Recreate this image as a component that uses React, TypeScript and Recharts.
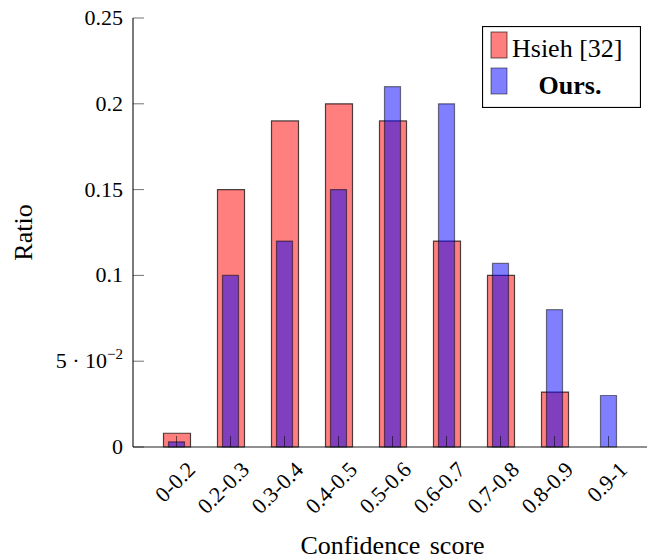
import { BarChart, Bar, XAxis, YAxis, Legend, Label } from 'recharts';

const ranges = ['0-0.2', '0.2-0.3', '0.3-0.4', '0.4-0.5', '0.5-0.6', '0.6-0.7', '0.7-0.8', '0.8-0.9', '0.9-1'];
const hsieh = [0.008, 0.15, 0.19, 0.2, 0.19, 0.12, 0.1, 0.032, 0];
const ours = [0.003, 0.1, 0.12, 0.15, 0.21, 0.2, 0.107, 0.08, 0.03];
const yTicks = [0, 0.05, 0.1, 0.15, 0.2, 0.25];

const data = ranges.map((range, i) => ({ range, hsieh: hsieh[i], ours: ours[i] }));

const FONT = 'Liberation Serif, DejaVu Serif, serif';
const TICK_LEN = 11;
const tickStroke = { stroke: '#000', strokeOpacity: 0.55, strokeWidth: 1 };
const axisLine = { stroke: '#222', strokeWidth: 1.2 };
const txt = (size: number, extra: any = {}) => ({ fontFamily: FONT, fontSize: size, fill: '#000', style: { fontFamily: FONT }, ...extra });

const BottomTick = (props: any) => {
  const { x, y, payload } = props;
  return (
    <g>
      <line x1={x} y1={y} x2={x} y2={y - TICK_LEN} {...tickStroke} />
      <text transform={`translate(${x + 20},${y + 24}) rotate(-45)`} textAnchor="end" {...txt(22)}>
        {payload.value}
      </text>
    </g>
  );
};

const TopTick = (props: any) => {
  const { x, y } = props;
  return <line x1={x} y1={y} x2={x} y2={y + TICK_LEN} {...tickStroke} />;
};

const LeftTick = (props: any) => {
  const { x, y, payload } = props;
  const v = payload.value;
  return (
    <g>
      <line x1={x} y1={y} x2={x + TICK_LEN} y2={y} {...tickStroke} />
      <text x={x - 10} y={y} dy={7} textAnchor="end" {...txt(22)}>
        {v === 0.05 ? (
          <>
            <tspan>5 · 10</tspan>
            <tspan dy={-9} fontSize={15}>−2</tspan>
          </>
        ) : (
          String(v)
        )}
      </text>
    </g>
  );
};

const RightTick = (props: any) => {
  const { x, y } = props;
  return <line x1={x} y1={y} x2={x - TICK_LEN} y2={y} {...tickStroke} />;
};

const LegendBox = () => (
  <svg width={159} height={82} style={{ display: 'block' }}>
    <rect x={0.5} y={0.5} width={158} height={81} fill="#fff" stroke="#000" strokeWidth={1.2} />
    <rect x={9} y={6} width={16} height={26} fill="red" fillOpacity={0.5} stroke="#000" strokeOpacity={0.6} />
    <text x={30} y={31} {...txt(26)}>Hsieh [32]</text>
    <rect x={9} y={42} width={16} height={26} fill="blue" fillOpacity={0.5} stroke="#000" strokeOpacity={0.5} />
    <text x={88} y={68} textAnchor="middle" {...txt(26, { fontWeight: 'bold' })}>Ours.</text>
  </svg>
);

export default function App() {
  return (
    <div style={{ position: 'absolute', left: 0, top: 0, width: 647, height: 559, overflow: 'hidden', background: '#fff', fontFamily: FONT }}>
      <BarChart width={660} height={559} data={data} margin={{ top: 18, right: 0, bottom: 0, left: 0 }}>
        <XAxis
          xAxisId="bottom"
          dataKey="range"
          orientation="bottom"
          height={112}
          padding={{ left: 16.5, right: 16.5 }}
          interval={0}
          tickSize={0}
          tickMargin={0}
          tickLine={false}
          axisLine={axisLine}
          tick={<BottomTick />}
        >
          <Label
            content={(p: any) => {
              const vb = p.viewBox ?? { x: 133, y: 447, width: 519, height: 112 };
              return (
                <text x={vb.x + vb.width / 2} y={vb.y + 107} textAnchor="middle" wordSpacing={3} {...txt(26)}>
                  Confidence score
                </text>
              );
            }}
          />
        </XAxis>
        <XAxis
          xAxisId="top"
          dataKey="range"
          orientation="top"
          height={0}
          padding={{ left: 16.5, right: 16.5 }}
          interval={0}
          tickSize={0}
          tickMargin={0}
          tickLine={false}
          axisLine={axisLine}
          tick={<TopTick />}
        />
        <YAxis
          yAxisId="left"
          width={133}
          domain={[0, 0.25]}
          ticks={yTicks}
          interval={0}
          tickSize={0}
          tickMargin={0}
          tickLine={false}
          axisLine={axisLine}
          tick={<LeftTick />}
        >
          <Label
            content={(p: any) => {
              const vb = p.viewBox ?? { x: 0, y: 18, width: 133, height: 429 };
              return (
                <text transform={`translate(32,${vb.y + vb.height / 2}) rotate(-90)`} textAnchor="middle" {...txt(26)}>
                  Ratio
                </text>
              );
            }}
          />
        </YAxis>
        <YAxis
          yAxisId="right"
          orientation="right"
          width={8}
          domain={[0, 0.25]}
          ticks={yTicks}
          interval={0}
          tickSize={0}
          tickMargin={0}
          tickLine={false}
          axisLine={axisLine}
          tick={<RightTick />}
        />
        <Legend
          layout="vertical"
          align="center"
          verticalAlign="middle"
          wrapperStyle={{ left: 482, top: 26, width: 159, height: 82 }}
          content={() => <LegendBox />}
        />
        <Bar
          xAxisId="bottom"
          yAxisId="left"
          dataKey="hsieh"
          name="Hsieh [32]"
          barSize={27}
          fill="red"
          fillOpacity={0.5}
          stroke="#000"
          strokeOpacity={0.7}
          strokeWidth={1.2}
          isAnimationActive={false}
        />
        <Bar
          xAxisId="top"
          yAxisId="left"
          dataKey="ours"
          name="Ours."
          barSize={16}
          fill="blue"
          fillOpacity={0.5}
          stroke="#000"
          strokeOpacity={0.5}
          strokeWidth={1.2}
          isAnimationActive={false}
        />
      </BarChart>
    </div>
  );
}
